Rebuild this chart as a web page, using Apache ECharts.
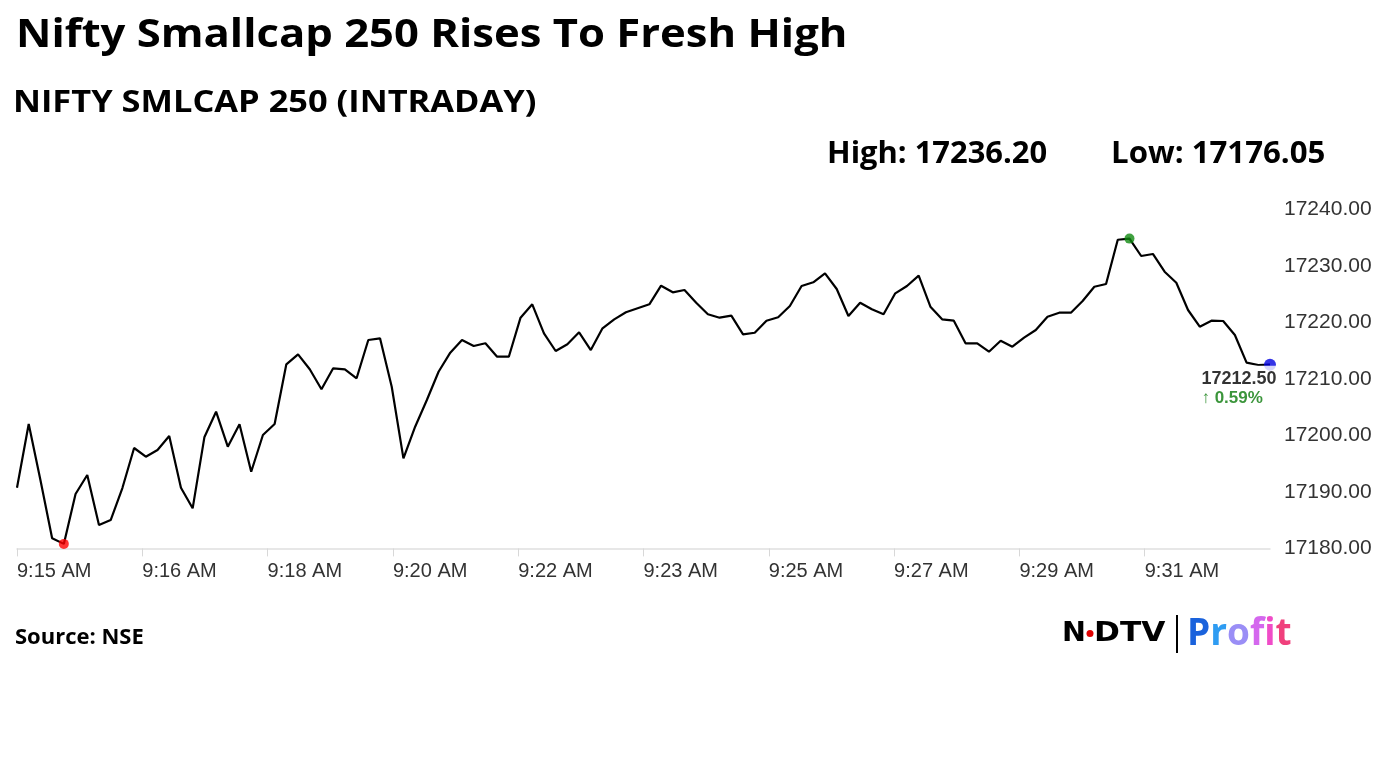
<!DOCTYPE html>
<html><head><meta charset="utf-8">
<script src="https://cdn.jsdelivr.net/npm/echarts@6/dist/echarts.min.js"></script>
<style>html,body{margin:0;padding:0;background:#fff}#c{width:1382px;height:777px}</style>
</head><body><div id="c"></div><script>
const titleText = 'Nifty Smallcap 250 Rises To Fresh High';
const subtitleText = 'NIFTY SMLCAP 250 (INTRADAY)';
const highText = 'High: 17236.20';
const lowText = 'Low: 17176.05';
const sourceText = 'Source: NSE';
const changeText = '0.59%';
const xTickLabels = ['9:15 AM','9:16 AM','9:18 AM','9:20 AM','9:22 AM','9:23 AM','9:25 AM','9:27 AM','9:29 AM','9:31 AM'];
const yTickValues = [17180, 17190, 17200, 17210, 17220, 17230, 17240];
const values = [
17190.73, 17202.00, 17192.10, 17181.78, 17180.80, 17189.62, 17192.98, 17184.14, 17185.02, 17190.68,
17197.76, 17196.22, 17197.40, 17199.88, 17190.73, 17187.09, 17199.65, 17204.18, 17197.99, 17201.95,
17193.56, 17200.06, 17202.00, 17212.56, 17214.33, 17211.68, 17208.14, 17211.86, 17211.68, 17210.09,
17216.86, 17217.16, 17208.60, 17195.93, 17201.53, 17206.25, 17211.25, 17214.62, 17216.86, 17215.80,
17216.28, 17213.91, 17213.91, 17220.81, 17223.18, 17218.05, 17214.92, 17216.10, 17218.22, 17215.09,
17218.93, 17220.52, 17221.76, 17222.47, 17223.18, 17226.47, 17225.30, 17225.71, 17223.46, 17221.41,
17220.81, 17221.16, 17217.87, 17218.15, 17220.28, 17220.88, 17222.88, 17226.41, 17227.07, 17228.66,
17225.88, 17221.11, 17223.46, 17222.29, 17221.41, 17225.12, 17226.41, 17228.24, 17222.75, 17220.52,
17220.28, 17216.28, 17216.28, 17214.79, 17216.74, 17215.68, 17217.27, 17218.63, 17220.98, 17221.69,
17221.69, 17223.76, 17226.29, 17226.77, 17234.60, 17234.80, 17231.72, 17232.08, 17228.94, 17227.00,
17222.17, 17219.21, 17220.28, 17220.22, 17217.75, 17212.85, 17212.44, 17212.50
];

const N = values.length;
const lineData = values.map((v, i) => [i, v]);
let minI = 0, maxI = 0;
values.forEach((v, i) => { if (v < values[minI]) minI = i; if (v > values[maxI]) maxI = i; });
const lastI = N - 1;
const xInterval = (N - 1) / xTickLabels.length;

const chart = echarts.init(document.getElementById('c'), null, {renderer: 'canvas'});
const axisFont = 'Liberation Sans';
const T = (x, y, text, font, fill, scaleX) => ({
  type: 'text', x: x, y: y, scaleX: scaleX || 1,
  style: {text: text, fill: fill || '#000', font: font, textAlign: 'left', textVerticalAlign: 'middle', align: 'left', verticalAlign: 'middle'}
});

chart.setOption({
  animation: false,
  backgroundColor: '#fff',
  grid: {left: 17, right: 112, top: 209.2, bottom: 228.6, containLabel: false},
  xAxis: {
    type: 'value', min: 0, max: N - 1, interval: xInterval,
    axisLine: {show: true, lineStyle: {color: '#e0e0e0', width: 1.5}},
    axisTick: {show: true, length: 8, lineStyle: {color: '#d8d8d8', width: 1}},
    splitLine: {show: false},
    axisLabel: {
      show: true, align: 'left', margin: 13, fontSize: 20, color: '#333', fontFamily: axisFont,
      showMaxLabel: false,
      formatter: v => xTickLabels[Math.round(v / xInterval)] || ''
    }
  },
  yAxis: {
    type: 'value', position: 'right',
    min: yTickValues[0], max: yTickValues[yTickValues.length - 1],
    interval: yTickValues[1] - yTickValues[0],
    axisLine: {show: false}, axisTick: {show: false}, splitLine: {show: false},
    axisLabel: {margin: 14, fontSize: 21, color: '#333', fontFamily: axisFont,
      formatter: v => v.toFixed(2)}
  },
  series: [
    {
      type: 'line', data: lineData, symbol: 'none', showSymbol: false,
      lineStyle: {color: '#000', width: 2.2}, z: 2
    },
    {
      type: 'scatter', z: 3,
      data: [
        {value: [minI, values[minI]], symbolSize: 10, itemStyle: {color: '#ff0000'}},
        {value: [maxI, values[maxI]], symbolSize: 10, itemStyle: {color: '#108a10'}},
        {value: [lastI, values[lastI]], symbolSize: 12, itemStyle: {color: '#0000e0'}}
      ]
    },
    {
      type: 'scatter', z: 5, symbolSize: 1, silent: true,
      itemStyle: {color: 'rgba(0,0,0,0)'},
      data: [{value: [lastI, values[lastI]],
        label: {
          show: true, position: [7, 1.5], align: 'right', verticalAlign: 'top',
          backgroundColor: '#fff', padding: [3, 0, 0, 0],
          formatter: p => '{a|' + p.value[1].toFixed(2) + '}\n{b|\u2191 ' + changeText + '}',
          rich: {
            a: {fontSize: 18, fontWeight: 'bold', color: '#000', lineHeight: 20, fontFamily: axisFont, align: 'left'},
            b: {fontSize: 17, fontWeight: 'bold', color: '#0a7a0a', lineHeight: 20, fontFamily: axisFont, align: 'left'}
          }
        }}]
    }
  ],
  graphic: [
    T(16, 36, titleText, 'bold 40px "Open Sans"', '#000', 1.09),
    T(13, 103.5, subtitleText, 'bold 31px "Open Sans"', '#000', 1.11),
    T(827, 154, highText, 'bold 30px "Open Sans"', '#000', 1.03),
    T(1111, 154, lowText, 'bold 30px "Open Sans"', '#000', 1.04),
    T(15, 638, sourceText, 'bold 22px "Open Sans"'),
    T(1062, 634, 'N', 'bold 26px "DejaVu Sans"', '#000', 1.1),
    {type: 'circle', shape: {cx: 1090, cy: 633.5, r: 3.5}, style: {fill: '#e00000'}},
    T(1094, 634, 'DTV', 'bold 26px "DejaVu Sans"', '#000', 1.2),
    {type: 'line', shape: {x1: 1177, y1: 615, x2: 1177, y2: 653}, style: {stroke: '#000', lineWidth: 2}},
    {type: 'text', x: 1187, y: 634, style: {
      text: '{p|P}{r|r}{o|o}{f|f}{i|i}{t|t}', font: 'bold 37px "Open Sans"', textAlign: 'left', textVerticalAlign: 'middle', align: 'left', verticalAlign: 'middle',
      rich: {
        p: {fill: '#1a62dc', font: 'bold 37px "Open Sans"'},
        r: {fill: '#2f9cf2', font: 'bold 37px "Open Sans"'},
        o: {fill: '#9a8ef6', font: 'bold 37px "Open Sans"'},
        f: {fill: '#d468ee', font: 'bold 37px "Open Sans"'},
        i: {fill: '#f04cc8', font: 'bold 37px "Open Sans"'},
        t: {fill: '#f0407c', font: 'bold 37px "Open Sans"'}
      }}}
  ]
});
</script></body></html>
